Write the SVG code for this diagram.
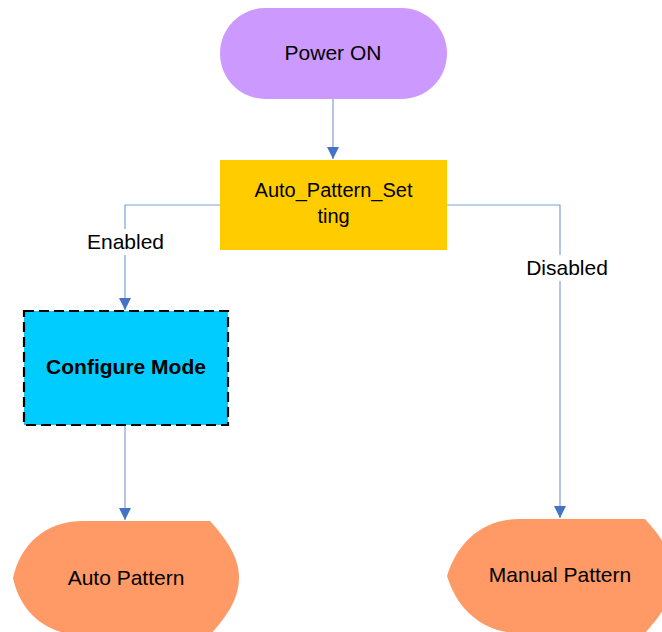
<svg xmlns="http://www.w3.org/2000/svg" width="662" height="632" viewBox="0 0 662 632">
<defs>
<marker id="arr" markerUnits="userSpaceOnUse" markerWidth="12" markerHeight="14" refX="12" refY="6" orient="auto" viewBox="0 0 12 12">
<path d="M0,0 L12,6 L0,12 Z" fill="#4472C4"/>
</marker>
<style>
.t{font-family:"Liberation Sans",Arial,sans-serif;font-size:21px;fill:#000;text-anchor:middle}
.b{font-weight:bold}
.c{fill:none;stroke:#7F9FD6;stroke-width:1.2}
.lbl{fill:#fff}
</style>
</defs>
<rect width="662" height="632" fill="#fff"/>
<g id="connectors">
<path class="c" d="M333,99 L333,159" marker-end="url(#arr)"/>
<path class="c" d="M220,205 L125,205 L125,310" marker-end="url(#arr)"/>
<path class="c" d="M447,205 L560,205 L560,518" marker-end="url(#arr)"/>
<path class="c" d="M125,425 L125,520" marker-end="url(#arr)"/>
<rect class="lbl" x="85" y="229" width="82" height="26"/>
<text class="t" x="125.5" y="249">Enabled</text>
<rect class="lbl" x="524" y="255" width="86" height="26"/>
<text class="t" x="567" y="275">Disabled</text>
</g>
<g id="power_on">
<rect x="220" y="8" width="227" height="91" rx="45.5" ry="45.5" fill="#CC99FF"/>
<text class="t" x="333" y="60">Power ON</text>
</g>
<g id="auto_pattern_setting">
<rect x="220" y="160" width="227" height="90" fill="#FFCC00"/>
<text class="t" x="333.5" y="197" style="font-size:20px">Auto_Pattern_Set</text>
<text class="t" x="333.5" y="223" style="font-size:20px">ting</text>
</g>
<g id="configure_mode">
<rect x="24" y="311" width="204" height="114" fill="#00CCFF" stroke="#000" stroke-width="2.2" stroke-dasharray="10,5"/>
<text class="t b" x="126" y="374">Configure Mode</text>
</g>
<g id="auto_pattern">
<path d="M83,521 L210,521 C230,543 239,560 239,578 C239,596 230,613 210,635 L83,635 C45,635 20,611 13,578 C20,545 45,521 83,521 Z" fill="#FF9966"/>
<text class="t" x="126" y="585">Auto Pattern</text>
</g>
<g id="manual_pattern">
<path d="M520,519 L645,519 C665,541 674,558 674,576 C674,594 665,611 645,633 L520,633 C482,633 457,609 447,576 C457,543 482,519 520,519 Z" fill="#FF9966"/>
<text class="t" x="560" y="582">Manual Pattern</text>
</g>
</svg>
